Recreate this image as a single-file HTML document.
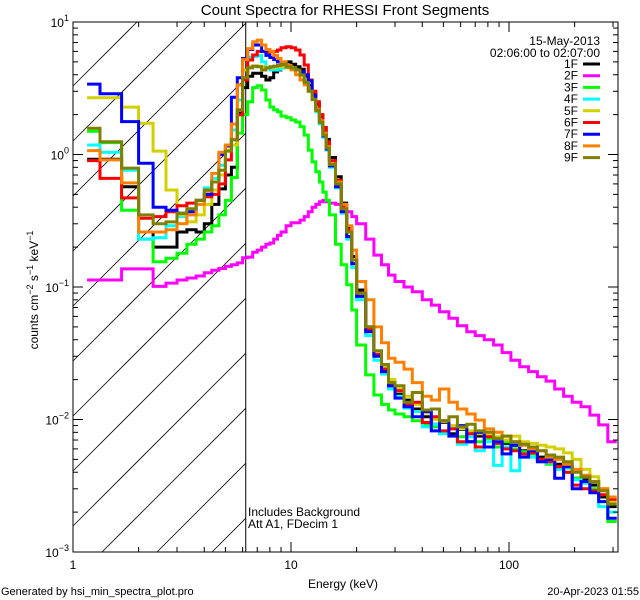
<!DOCTYPE html>
<html><head><meta charset="utf-8"><style>
html,body{margin:0;padding:0;background:#fff;overflow:hidden;width:640px;height:600px;}
svg{display:block;}
svg text{font-family:"Liberation Sans",sans-serif;fill:#000;}
</style></head><body>
<svg id="chart" width="640" height="600" viewBox="0 0 640 600" xmlns="http://www.w3.org/2000/svg">
<rect x="0" y="0" width="640" height="600" fill="#fff"/>
<g id="hatch"></g>
<g id="series"></g>
<g id="axes"></g>
<text x="345" y="15" font-size="15" text-anchor="middle">Count Spectra for RHESSI Front Segments</text>
<text x="600" y="45" font-size="12" text-anchor="end">15-May-2013</text>
<text x="600" y="57" font-size="12" text-anchor="end">02:06:00 to 02:07:00</text>
<g id="legend"></g>
<text x="248" y="516" font-size="12">Includes Background</text>
<text x="248" y="528" font-size="12">Att A1, FDecim 1</text>
<text x="343" y="588" font-size="12" text-anchor="middle">Energy (keV)</text>
<text transform="translate(38,290) rotate(-90)" font-size="12" text-anchor="middle">counts cm<tspan font-size="9" dy="-5">−2</tspan><tspan dy="5"> s</tspan><tspan font-size="9" dy="-5">−1</tspan><tspan dy="5"> keV</tspan><tspan font-size="9" dy="-5">−1</tspan></text>
<text x="1" y="595" font-size="11">Generated by hsi_min_spectra_plot.pro</text>
<text x="639" y="595" font-size="11" text-anchor="end">20-Apr-2023 01:55</text>
</svg>
<script>
const edges=[1.16,1.33,1.67,2.0,2.33,2.67,3.0,3.33,3.67,4.0,4.33,4.67,5.0,5.33,5.67,6.0,6.33,6.67,7.0,7.33,7.67,8,8.33,8.67,9,9.5,10,10.5,11,11.5,12,12.5,13,13.5,14,14.5,15,16,17,18,19,20,22,24,26,28,30,33,36,40,44,48,53,58,64,70,77,85,93,102,112,123,135,148,162,178,195,214,235,258,284,312];
const seriesNames=["1F","2F","3F","4F","5F","6F","7F","8F","9F"];
const seriesColors=["#000000","#ff00ff","#00ff00","#00ffff","#d4d000","#ff0000","#0000ff","#ff8000","#808000"];
const s1F=[0.92,0.92,0.57,0.26,0.20,0.20,0.26,0.27,0.26,0.30,0.42,0.55,0.70,0.80,2.05,3.2,3.9,4.1,4.1,3.9,3.65,3.8,4.2,4.35,4.6,5.0,4.8,4.6,4.4,3.9,3.3,2.9,2.4,1.95,1.6,1.3,0.95,0.68,0.43,0.28,0.17,0.095,0.05,0.031,0.023,0.019,0.0155,0.014,0.012,0.0105,0.0092,0.0095,0.0078,0.0084,0.0068,0.0075,0.0062,0.0072,0.0066,0.0064,0.0058,0.0057,0.0052,0.0050,0.0046,0.0044,0.0036,0.0035,0.0032,0.0026,0.0022];
const s2F=[0.113,0.113,0.137,0.137,0.101,0.107,0.113,0.117,0.121,0.128,0.134,0.138,0.143,0.147,0.152,0.166,0.168,0.183,0.19,0.20,0.21,0.215,0.23,0.245,0.26,0.29,0.305,0.305,0.32,0.34,0.37,0.40,0.42,0.44,0.45,0.44,0.43,0.42,0.40,0.37,0.34,0.30,0.23,0.174,0.147,0.123,0.11,0.10,0.092,0.08,0.073,0.065,0.058,0.051,0.046,0.043,0.040,0.0365,0.032,0.028,0.025,0.023,0.021,0.0195,0.017,0.015,0.0135,0.0125,0.0108,0.0091,0.0068];
const s3F=[1.5,1.23,0.38,0.23,0.155,0.165,0.18,0.21,0.23,0.26,0.29,0.35,0.45,0.67,1.45,2.0,2.5,3.2,3.3,3.07,2.58,2.28,2.17,2.1,1.95,1.9,1.82,1.76,1.62,1.40,1.08,0.88,0.74,0.62,0.52,0.45,0.35,0.21,0.147,0.104,0.067,0.0365,0.0217,0.0153,0.013,0.0118,0.011,0.0105,0.0098,0.0092,0.0088,0.0082,0.0086,0.0074,0.0080,0.0068,0.0072,0.0062,0.0068,0.0060,0.0057,0.0055,0.0050,0.0046,0.0044,0.0040,0.0036,0.0034,0.0030,0.0024,0.0017];
const s4F=[1.18,1.04,0.76,0.23,0.235,0.29,0.34,0.38,0.45,0.56,0.66,0.83,1.18,1.53,2.58,4.34,5.4,5.5,5.6,5.0,4.5,4.34,4.34,4.4,4.5,4.5,4.5,4.34,4.05,3.65,3.07,2.6,2.1,1.7,1.35,1.08,0.80,0.56,0.36,0.23,0.14,0.08,0.043,0.028,0.022,0.017,0.0150,0.0122,0.0115,0.0088,0.0092,0.0078,0.0086,0.0065,0.0074,0.0058,0.0068,0.0045,0.0062,0.0041,0.0055,0.0052,0.0048,0.0047,0.0042,0.0043,0.0035,0.0033,0.0029,0.0022,0.0020];
const s5F=[2.68,2.68,2.28,1.72,1.06,0.54,0.35,0.31,0.35,0.42,0.54,0.70,1.08,1.18,2.17,4.34,4.6,4.65,4.65,4.6,4.5,4.5,4.6,4.65,4.6,4.5,4.5,4.34,3.98,3.65,3.18,2.7,2.2,1.8,1.42,1.12,0.82,0.58,0.37,0.24,0.15,0.086,0.047,0.031,0.025,0.020,0.017,0.0150,0.013,0.0112,0.0100,0.0096,0.0090,0.0085,0.0082,0.0078,0.0076,0.0074,0.0070,0.0075,0.0068,0.0066,0.0064,0.0062,0.0060,0.0056,0.0050,0.0042,0.0037,0.0030,0.0024];
const s6F=[0.9,0.66,0.47,0.33,0.34,0.37,0.41,0.43,0.45,0.48,0.50,0.60,0.91,1.29,1.99,3.65,5.17,5.64,6.0,6.0,5.9,6.0,6.0,6.15,6.4,6.5,6.4,6.15,5.64,4.74,3.65,3.0,2.5,2.0,1.6,1.25,0.9,0.64,0.41,0.27,0.16,0.09,0.048,0.031,0.024,0.018,0.0165,0.013,0.0135,0.0095,0.0105,0.0082,0.0085,0.0068,0.0078,0.0062,0.0074,0.0066,0.0060,0.0058,0.0055,0.0056,0.0050,0.0048,0.0044,0.0040,0.0032,0.0030,0.0029,0.0027,0.0025];
const s7F=[3.4,2.87,1.77,0.86,0.40,0.38,0.36,0.37,0.45,0.50,0.62,1.0,1.16,2.7,3.8,5.3,6.2,6.7,6.7,6.0,5.6,5.4,5.2,5.0,4.8,4.6,4.4,4.34,4.2,4.0,3.6,2.8,2.2,1.75,1.38,1.1,0.82,0.57,0.37,0.24,0.15,0.085,0.046,0.030,0.023,0.018,0.0145,0.0125,0.0105,0.0115,0.0082,0.0098,0.0075,0.0090,0.0068,0.0080,0.0062,0.0068,0.0055,0.0064,0.0052,0.0058,0.0048,0.0050,0.0036,0.0044,0.0030,0.0034,0.0028,0.0024,0.0018];
const s8F=[1.07,0.91,0.61,0.26,0.26,0.27,0.30,0.35,0.42,0.53,0.72,1.04,1.18,1.7,3.35,5.2,6.3,7.1,7.3,6.7,6.2,6.0,5.6,5.3,5.0,4.7,4.35,4.0,3.65,3.35,3.0,2.6,2.2,1.8,1.45,1.15,0.85,0.62,0.42,0.29,0.19,0.11,0.08,0.05,0.038,0.029,0.027,0.024,0.019,0.015,0.014,0.017,0.0135,0.012,0.011,0.0099,0.0085,0.0080,0.0075,0.0068,0.0064,0.0060,0.0058,0.0052,0.0050,0.0046,0.0042,0.0038,0.0034,0.0030,0.0026];
const s9F=[1.58,1.25,0.79,0.35,0.30,0.31,0.36,0.39,0.45,0.54,0.62,0.76,1.06,1.29,2.17,3.8,4.5,4.65,4.6,4.34,4.5,4.6,4.65,4.7,4.8,4.6,4.5,4.34,3.98,3.5,3.0,2.6,2.15,1.75,1.4,1.12,0.84,0.6,0.39,0.26,0.16,0.09,0.05,0.033,0.026,0.019,0.018,0.0135,0.016,0.0118,0.0120,0.0098,0.0105,0.0088,0.0092,0.0082,0.0080,0.0072,0.0075,0.0068,0.0065,0.0062,0.0058,0.0054,0.0052,0.0048,0.0040,0.0037,0.0034,0.0029,0.0023];
const xTickValues=[1,10,100];
const xTickLabels=["1","10","100"];
const yTickExponents=[1,0,-1,-2,-3];
const thresholdEnergy=6.2;

const NS="http://www.w3.org/2000/svg";
const L=73,R=618,T=22,B=552;
const xMin=1,xMax=316.2,yMin=0.001,yMax=10;
function xs(v){return L+(R-L)*(Math.log10(v)-Math.log10(xMin))/(Math.log10(xMax)-Math.log10(xMin));}
function ys(v){return B-(B-T)*(Math.log10(v)-Math.log10(yMin))/(Math.log10(yMax)-Math.log10(yMin));}
function mk(tag,attrs,parent){const e=document.createElementNS(NS,tag);for(const k in attrs)e.setAttribute(k,attrs[k]);parent.appendChild(e);return e;}

const defs=mk('defs',{},document.getElementById('chart'));
const cp=mk('clipPath',{id:'plotclip'},defs);
mk('rect',{x:L,y:T,width:R-L,height:B-T},cp);

// hatch: lines x + y = c, clipped analytically to [L, xThr] x [T, B]
const hatch=document.getElementById('hatch');
const xThr=xs(thresholdEnergy);
for(let c=159;c<xThr+B;c+=55){
  // segment endpoints: lower-left and upper-right
  let xa=Math.max(L,c-B), ya=c-xa;
  let xb=Math.min(xThr,c-T), yb=c-xb;
  if(xb<=xa) continue;
  const ln=mk('line',{x1:xa.toFixed(1),y1:ya.toFixed(1),x2:xb.toFixed(1),y2:yb.toFixed(1),stroke:'#000','stroke-width':0.8},hatch);
  
  
}
const th=mk('line',{x1:xThr,y1:T,x2:xThr,y2:B,stroke:'#000','stroke-width':1},hatch);



const allSeries=[s1F,s2F,s3F,s4F,s5F,s6F,s7F,s8F,s9F];
const sg=document.getElementById('series');
sg.setAttribute('clip-path','url(#plotclip)');
allSeries.forEach((vals,i)=>{
  let d='';
  for(let k=0;k<vals.length;k++){
    const x0=xs(edges[k]),x1=Math.min(R-1,xs(edges[k+1])),y=ys(vals[k]);
    d+=(k===0?'M':'L')+x0.toFixed(1)+','+y.toFixed(1)+' L'+x1.toFixed(1)+','+y.toFixed(1)+' ';
  }
  const p=mk('path',{d:d,fill:'none',stroke:seriesColors[i],'stroke-width':3,'stroke-linejoin':'miter'},sg);
  
  
});

const ax=document.getElementById('axes');
const frame=mk('rect',{x:L,y:T,width:R-L,height:B-T,fill:'none',stroke:'#000','stroke-width':1},ax);


for(let dec=1;dec<=100;dec*=10){
  for(let m=1;m<=9;m++){
    const v=dec*m; if(v>xMax) break;
    const x=xs(v); const len=(m===1)?10:5;
    const t1=mk('line',{x1:x,y1:B,x2:x,y2:B-len,stroke:'#000','stroke-width':1},ax);
    
    
    const t2=mk('line',{x1:x,y1:T,x2:x,y2:T+len,stroke:'#000','stroke-width':1},ax);
    
    
  }
}
xTickValues.forEach((v,i)=>{
  const t=mk('text',{x:xs(v),y:B+17,'font-size':12,'text-anchor':'middle'},ax);
  t.textContent=xTickLabels[i];
  
  
});
for(let e=-3;e<1;e++){
  for(let m=1;m<=9;m++){
    const v=Math.pow(10,e)*m; const y=ys(v); const len=(m===1)?10:5;
    const t1=mk('line',{x1:L,y1:y,x2:L+len,y2:y,stroke:'#000','stroke-width':1},ax);
    
    
    const t2=mk('line',{x1:R,y1:y,x2:R-len,y2:y,stroke:'#000','stroke-width':1},ax);
    
    
  }
}
yTickExponents.forEach(e=>{
  const y=ys(Math.pow(10,e));
  const t=mk('text',{x:L-4,y:y+5,'font-size':12,'text-anchor':'end'},ax);
  const base=document.createElementNS(NS,'tspan');base.textContent='10';t.appendChild(base);
  const sup=document.createElementNS(NS,'tspan');sup.setAttribute('dy','-6');sup.setAttribute('font-size','9');
  sup.textContent=(e<0?'−':'')+Math.abs(e);t.appendChild(sup);
  
  
});

const lg=document.getElementById('legend');
seriesNames.forEach((n,i)=>{
  const y=68+i*11.7;
  const t=mk('text',{x:578,y:y,'font-size':12,'text-anchor':'end'},lg);
  t.textContent=n;
  
  
  const l=mk('line',{x1:583,y1:y-4,x2:600,y2:y-4,stroke:seriesColors[i],'stroke-width':3},lg);
  
  
});
</script>
</body></html>
